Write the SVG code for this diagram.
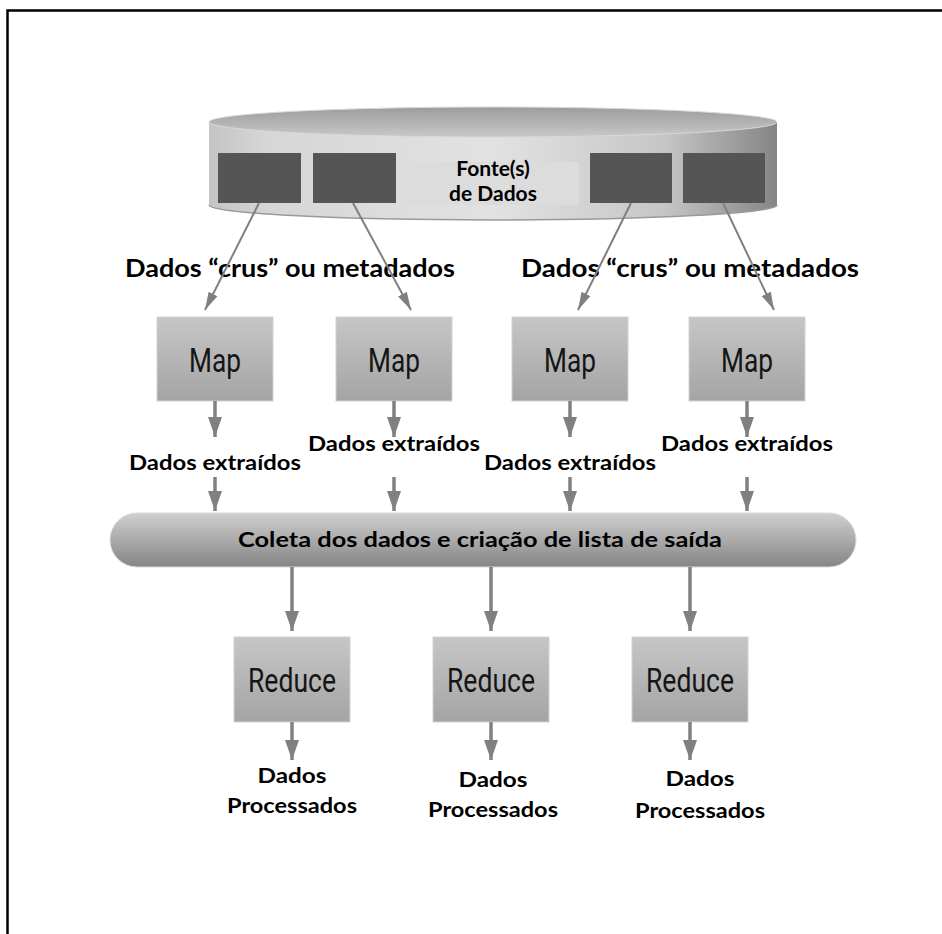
<svg xmlns="http://www.w3.org/2000/svg" width="942" height="934" viewBox="0 0 942 934">
<defs>
<linearGradient id="body" x1="0" y1="0" x2="1" y2="0">
<stop offset="0" stop-color="#c4c4c4"/><stop offset="0.1" stop-color="#d6d6d6"/><stop offset="0.5" stop-color="#e2e2e2"/><stop offset="0.8" stop-color="#c6c6c6"/><stop offset="1" stop-color="#858585"/>
</linearGradient>
<linearGradient id="top" x1="0" y1="0" x2="0" y2="1">
<stop offset="0" stop-color="#9c9c9c"/><stop offset="1" stop-color="#c8c8c8"/>
</linearGradient>
<linearGradient id="box" x1="0" y1="0" x2="0" y2="1">
<stop offset="0" stop-color="#c6c6c8"/><stop offset="1" stop-color="#a4a4a4"/>
</linearGradient>
<linearGradient id="bus" x1="0" y1="0" x2="0" y2="1">
<stop offset="0" stop-color="#cfcfcf"/><stop offset="1" stop-color="#858585"/>
</linearGradient>
<marker id="ah" viewBox="0 0 20 14" refX="20" refY="7" markerWidth="20" markerHeight="14" markerUnits="userSpaceOnUse" orient="auto">
<path d="M0 0 L20 7 L0 14 Z" fill="#808080"/>
</marker>
<marker id="ahs" viewBox="0 0 18 10" refX="18" refY="5" markerWidth="18" markerHeight="10" markerUnits="userSpaceOnUse" orient="auto">
<path d="M0 0 L18 5 L0 10 Z" fill="#808080"/>
</marker>
</defs>
<style>
.lbl{font-family:Lato,"Open Sans",sans-serif;font-weight:bold;fill:#000;text-anchor:middle}
.nd{font-family:Roboto,"Liberation Sans",sans-serif;fill:#151515;text-anchor:middle;font-size:34px}
.bx{fill:url(#box);stroke:#d2d2d2;stroke-width:1}
.ar{stroke:#808080;stroke-width:3.5;fill:none}
.ard{stroke:#808080;stroke-width:2;fill:none}
</style>
<rect width="942" height="934" fill="#fff"/>
<path d="M942 10.5 H7.5 V934" fill="none" stroke="#000" stroke-width="2.5"/>

<g id="fonte">
<path d="M209 122 V205 A284 15 0 0 0 777 205 V122 Z" fill="url(#body)"/>
<path d="M209 205 A284 15 0 0 0 777 205" fill="none" stroke="#9a9a9a" stroke-width="1.5"/>
<ellipse cx="493" cy="122" rx="284" ry="15" fill="url(#top)" stroke="#d8d8d8" stroke-width="1"/>
<rect x="407" y="162" width="172" height="43" fill="#dcdcdc"/>
<rect x="218" y="153" width="83" height="50" fill="#555"/>
<rect x="313" y="153" width="83" height="50" fill="#555"/>
<rect x="590" y="153" width="82" height="50" fill="#555"/>
<rect x="683" y="153" width="82" height="50" fill="#555"/>
<text class="lbl" x="493" y="176" font-size="21">Fonte(s)</text>
<text class="lbl" x="493" y="201" font-size="21">de Dados</text>
</g>

<g id="labels-crus">
<text class="lbl" x="290" y="277" font-size="24" textLength="330" lengthAdjust="spacingAndGlyphs">Dados “crus” ou metadados</text>
<text class="lbl" x="690" y="277" font-size="24" textLength="338" lengthAdjust="spacingAndGlyphs">Dados “crus” ou metadados</text>
</g>

<g id="map1"><rect class="bx" x="157" y="317" width="116" height="84"/><text class="nd" x="215" y="372" textLength="52" lengthAdjust="spacingAndGlyphs">Map</text></g>
<g id="map2"><rect class="bx" x="336" y="317" width="116" height="84"/><text class="nd" x="394" y="372" textLength="52" lengthAdjust="spacingAndGlyphs">Map</text></g>
<g id="map3"><rect class="bx" x="512" y="317" width="116" height="84"/><text class="nd" x="570" y="372" textLength="52" lengthAdjust="spacingAndGlyphs">Map</text></g>
<g id="map4"><rect class="bx" x="689" y="317" width="116" height="84"/><text class="nd" x="747" y="372" textLength="52" lengthAdjust="spacingAndGlyphs">Map</text></g>

<g id="extraidos">
<text class="lbl" x="215" y="470" font-size="20" textLength="172" lengthAdjust="spacingAndGlyphs">Dados extraídos</text>
<text class="lbl" x="394" y="451" font-size="20" textLength="172" lengthAdjust="spacingAndGlyphs">Dados extraídos</text>
<text class="lbl" x="570" y="470" font-size="20" textLength="172" lengthAdjust="spacingAndGlyphs">Dados extraídos</text>
<text class="lbl" x="747" y="451" font-size="20" textLength="172" lengthAdjust="spacingAndGlyphs">Dados extraídos</text>
</g>

<g id="coleta">
<rect x="110" y="513" width="746" height="54" rx="27" ry="27" fill="url(#bus)" stroke="#dadada" stroke-width="1"/>
<text class="lbl" x="480" y="547" font-size="20" textLength="484" lengthAdjust="spacingAndGlyphs">Coleta dos dados e criação de lista de saída</text>
</g>

<g id="reduce1"><rect class="bx" x="234" y="637" width="116" height="85"/><text class="nd" x="292" y="692" textLength="88" lengthAdjust="spacingAndGlyphs">Reduce</text></g>
<g id="reduce2"><rect class="bx" x="433" y="637" width="116" height="85"/><text class="nd" x="491" y="692" textLength="88" lengthAdjust="spacingAndGlyphs">Reduce</text></g>
<g id="reduce3"><rect class="bx" x="632" y="637" width="116" height="85"/><text class="nd" x="690" y="692" textLength="88" lengthAdjust="spacingAndGlyphs">Reduce</text></g>

<g id="processados">
<text class="lbl" x="292" y="783" font-size="20" textLength="69" lengthAdjust="spacingAndGlyphs">Dados</text>
<text class="lbl" x="292" y="813" font-size="20" textLength="130" lengthAdjust="spacingAndGlyphs">Processados</text>
<text class="lbl" x="493" y="787" font-size="20" textLength="69" lengthAdjust="spacingAndGlyphs">Dados</text>
<text class="lbl" x="493" y="817" font-size="20" textLength="130" lengthAdjust="spacingAndGlyphs">Processados</text>
<text class="lbl" x="700" y="786" font-size="20" textLength="69" lengthAdjust="spacingAndGlyphs">Dados</text>
<text class="lbl" x="700" y="818" font-size="20" textLength="130" lengthAdjust="spacingAndGlyphs">Processados</text>
</g>

<g id="connectors">
<line class="ard" x1="259" y1="203" x2="205" y2="310" marker-end="url(#ahs)"/>
<line class="ard" x1="353" y1="203" x2="411" y2="310" marker-end="url(#ahs)"/>
<line class="ard" x1="631" y1="203" x2="578" y2="310" marker-end="url(#ahs)"/>
<line class="ard" x1="723" y1="203" x2="774" y2="310" marker-end="url(#ahs)"/>
<line class="ar" x1="215" y1="401" x2="215" y2="437" marker-end="url(#ah)"/>
<line class="ar" x1="394" y1="401" x2="394" y2="437" marker-end="url(#ah)"/>
<line class="ar" x1="570" y1="401" x2="570" y2="437" marker-end="url(#ah)"/>
<line class="ar" x1="747" y1="401" x2="747" y2="437" marker-end="url(#ah)"/>
<line class="ar" x1="215" y1="477" x2="215" y2="511" marker-end="url(#ah)"/>
<line class="ar" x1="394" y1="477" x2="394" y2="511" marker-end="url(#ah)"/>
<line class="ar" x1="570" y1="477" x2="570" y2="511" marker-end="url(#ah)"/>
<line class="ar" x1="747" y1="477" x2="747" y2="511" marker-end="url(#ah)"/>
<line class="ar" x1="292" y1="567" x2="292" y2="631" marker-end="url(#ah)"/>
<line class="ar" x1="491" y1="567" x2="491" y2="631" marker-end="url(#ah)"/>
<line class="ar" x1="690" y1="567" x2="690" y2="631" marker-end="url(#ah)"/>
<line class="ar" x1="292" y1="722" x2="292" y2="760" marker-end="url(#ah)"/>
<line class="ar" x1="491" y1="722" x2="491" y2="760" marker-end="url(#ah)"/>
<line class="ar" x1="690" y1="722" x2="690" y2="760" marker-end="url(#ah)"/>
</g>
</svg>
